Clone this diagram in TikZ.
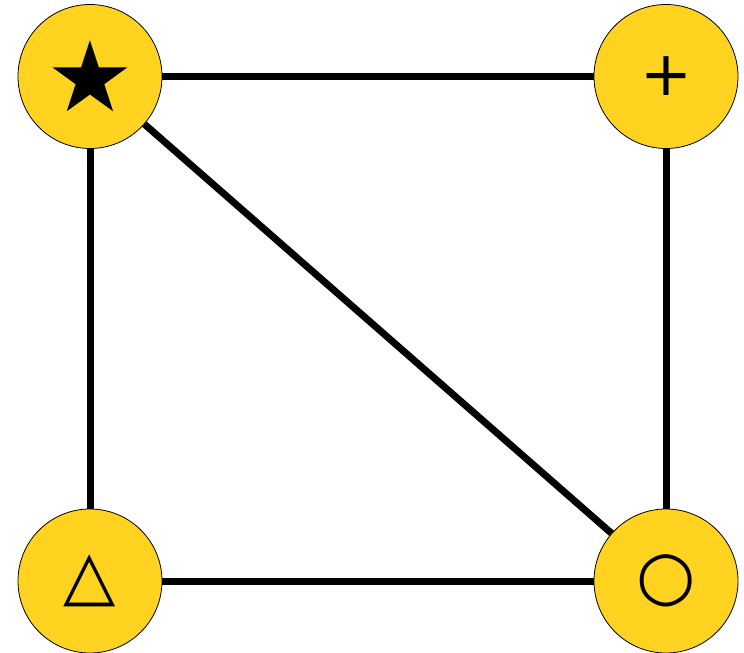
\documentclass[tikz,border=0pt]{standalone}
\usepackage{fontspec}
\setmainfont{DejaVu Sans}
\usepackage{tikz}
\usetikzlibrary{positioning}
\definecolor{nodegold}{HTML}{FFD320}

\begin{document}
\begin{tikzpicture}[
  x=1pt, y=-1pt,
  vertex/.style={circle, draw=black, line width=0.8pt, fill=nodegold, minimum size=144pt, inner sep=0pt},
  glyph/.style={font=\fontsize{#1}{#1}\selectfont},
  link/.style={line width=7pt, black}
]
\useasboundingbox (0,0) rectangle (744,653);

% Vertices
\node[vertex, glyph=98] (star) at (90, 76.5) {★};
\node[vertex, glyph=62] (plus) at (666, 76.5) {+};
\node[vertex, glyph=68] (tri) at (90, 581) {△};
\node[vertex, glyph=68] (ring) at (666, 581) {○};

% Edges
\draw[link] (star) -- (plus);
\draw[link] (star) -- (tri);
\draw[link] (plus) -- (ring);
\draw[link] (tri) -- (ring);
\draw[link] (star) -- (ring);

\end{tikzpicture}
\end{document}
